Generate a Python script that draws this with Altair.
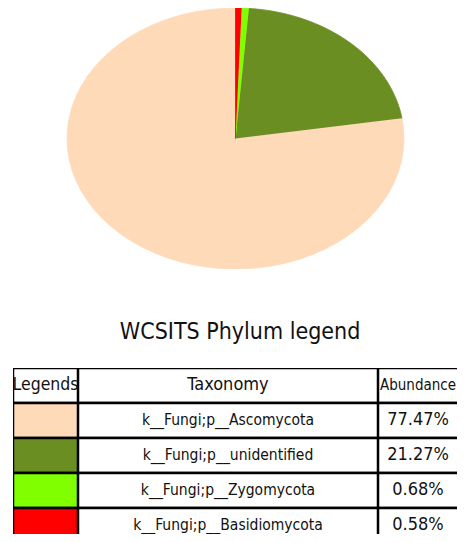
import altair as alt
import pandas as pd

# ---- data ----
taxa = [
    "k__Fungi;p__Ascomycota",
    "k__Fungi;p__unidentified",
    "k__Fungi;p__Zygomycota",
    "k__Fungi;p__Basidiomycota",
]
abundance = [77.47, 21.27, 0.68, 0.58]
colors = ["#FFDAB9", "#6B8E23", "#7FFF00", "#FF0000"]
pie_order = [4, 3, 2, 1]          # clockwise from 12 o'clock
headers = ["Legends", "Taxonomy", "Abundance"]
title_text = "WCSITS Phylum legend"

FONT = "DejaVu Sans Condensed, Liberation Sans Narrow, DejaVu Sans"
N = 60  # arc samples per slice

# ---- pie (elliptical, drawn as filled polygons through x/y scales) ----
pie_df = pd.DataFrame({
    "taxon": taxa,
    "value": abundance,
    "order": pie_order,
    "k": [list(range(N + 1)) for _ in taxa],
})

xs = alt.Scale(domain=[-1.3205, 1.3145], nice=False, zero=False)
ys = alt.Scale(domain=[-1, 1], nice=False, zero=False)

pie = (
    alt.Chart(pie_df)
    .transform_window(cum="sum(value)", sort=[alt.SortField("order")], frame=[None, 0])
    .transform_joinaggregate(total="sum(value)")
    .transform_flatten(["k"])
    .transform_calculate(
        a0="2*PI*(datum.cum - datum.value)/datum.total",
        a1="2*PI*datum.cum/datum.total",
    )
    .transform_calculate(ang=f"datum.a0 + (datum.a1 - datum.a0)*max(datum.k-1,0)/{N-1}")
    .transform_calculate(
        px="datum.k == 0 ? 0 : sin(datum.ang)",
        py="datum.k == 0 ? 0 : cos(datum.ang)",
    )
    .mark_line(filled=True, strokeWidth=0.8, clip=True)
    .encode(
        x=alt.X("px:Q", scale=xs, axis=None),
        y=alt.Y("py:Q", scale=ys, axis=None),
        color=alt.Color("taxon:N", scale=alt.Scale(domain=taxa, range=colors), legend=None),
        stroke=alt.Stroke("taxon:N", scale=alt.Scale(domain=taxa, range=colors), legend=None),
        detail="taxon:N",
        order=alt.Order("k:Q"),
    )
    .properties(width=444, height=261)
)

# ---- title panel ----
title_df = pd.DataFrame({"t": [title_text]})
title = (
    alt.Chart(title_df)
    .mark_text(font=FONT, fontSize=23, color="#111111", align="center", baseline="alphabetic")
    .encode(x=alt.value(227), y=alt.value(70), text="t:N")
    .properties(width=444, height=99)
)

# ---- table ----
tbl = pd.DataFrame({
    "row": list(range(len(taxa) + 1)),
    "fillcol": ["white"] + colors,
    "legend_txt": [headers[0]] + [""] * len(taxa),
    "tax_txt": [headers[1]] + taxa,
    "ab_txt": [headers[2]] + [f"{v:.2f}%" for v in abundance],
})

yscale = alt.Scale(domain=[0, 4.743], reverse=True, nice=False, zero=False)


def column(width, text_field, text_x, head_size, body_size, x2_extra=0, fill_by_key=False):
    base = alt.Chart(tbl).transform_calculate(
        row_end="datum.row + 1", mid="datum.row + 0.5"
    )
    enc = dict(
        x=alt.value(0), x2=alt.value(width + x2_extra),
        y=alt.Y("row:Q", scale=yscale, axis=None), y2="row_end:Q",
    )
    if fill_by_key:
        rect = base.mark_rect(stroke="black", strokeWidth=2.5, clip=True).encode(
            fill=alt.Fill("fillcol:N", scale=None), **enc
        )
    else:
        rect = base.mark_rect(stroke="black", strokeWidth=2.5, fill="white", clip=True).encode(**enc)
    txt = base.mark_text(font=FONT, color="#111111", align="center", baseline="middle",
                         clip=True).encode(
        x=alt.value(text_x),
        y=alt.Y("mid:Q", scale=yscale, axis=None),
        text=f"{text_field}:N",
        size=alt.condition("datum.row == 0", alt.value(head_size), alt.value(body_size)),
    )
    return alt.layer(rect, txt).properties(width=width, height=166)


col_leg = column(65, "legend_txt", 32.5, 17.5, 15, fill_by_key=True)
col_tax = column(300, "tax_txt", 150, 18, 15.5)
col_ab = column(79, "ab_txt", 40, 15, 18, x2_extra=10)

table = alt.hconcat(col_leg, col_tax, col_ab, spacing=0)

chart = (
    alt.vconcat(pie, title, table, spacing=0)
    .properties(padding={"left": 5, "top": 0, "right": 0, "bottom": 0})
    .configure_view(strokeWidth=0)
)

chart.save("out.html", embed_options={"renderer": "svg", "actions": False})
